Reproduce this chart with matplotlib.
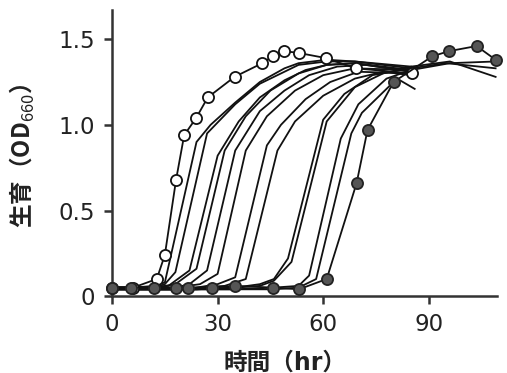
import matplotlib
matplotlib.use('Agg')
import matplotlib.pyplot as plt

plt.rcParams['font.family'] = ['DejaVu Sans', 'Noto Sans CJK JP']
plt.rcParams['mathtext.fontset'] = 'custom'
plt.rcParams['mathtext.rm'] = 'Noto Sans CJK JP'
plt.rcParams['mathtext.bf'] = 'Noto Sans CJK JP:bold'

# open-circle series
open_t = [0, 6, 12.7, 15, 18.2, 20.5, 23.9, 27.2, 34.8, 42.7, 45.6, 49, 53, 60.7, 69.2, 85.3]
open_y = [0.05, 0.05, 0.10, 0.24, 0.68, 0.94, 1.04, 1.16, 1.28, 1.36, 1.40, 1.43, 1.42, 1.39, 1.33, 1.30]

# filled-circle series
dark_t = [0, 5.4, 12, 18.2, 21.7, 28.3, 34.9, 45.8, 53.1, 61, 69.5, 72.6, 80, 91, 95.7, 103.6, 109]
dark_y = [0.05, 0.05, 0.05, 0.05, 0.05, 0.05, 0.06, 0.05, 0.04, 0.10, 0.66, 0.97, 1.25, 1.40, 1.43, 1.46, 1.38]

# intermediate curves (no markers)
curves = [
    ([0, 6, 12, 15, 24, 28, 35, 42, 49, 53, 61, 69, 85],
     [0.05, 0.05, 0.06, 0.08, 0.90, 1.00, 1.13, 1.25, 1.33, 1.36, 1.38, 1.37, 1.33]),
    ([0, 6, 12, 15, 18, 27, 35, 42, 49, 53, 61, 69, 85],
     [0.05, 0.05, 0.05, 0.07, 0.14, 0.95, 1.12, 1.24, 1.31, 1.35, 1.37, 1.37, 1.34]),
    ([0, 6, 12, 16, 22, 30, 36, 42, 49, 55, 61, 69, 85],
     [0.05, 0.05, 0.05, 0.06, 0.15, 0.82, 1.02, 1.16, 1.26, 1.32, 1.35, 1.36, 1.32]),
    ([0, 6, 12, 18, 24, 32, 38, 45, 53, 61, 69, 85],
     [0.05, 0.05, 0.05, 0.07, 0.16, 0.85, 1.05, 1.20, 1.30, 1.35, 1.36, 1.31]),
    ([0, 6, 12, 18, 22, 27, 35, 42, 49, 56, 64, 72, 85],
     [0.05, 0.05, 0.05, 0.05, 0.07, 0.15, 0.85, 1.08, 1.20, 1.29, 1.34, 1.35, 1.31]),
    ([0, 6, 12, 18, 25, 30, 38, 44, 52, 60, 69, 85],
     [0.05, 0.05, 0.05, 0.05, 0.07, 0.13, 0.85, 1.05, 1.20, 1.29, 1.33, 1.32]),
    ([0, 6, 12, 18, 24, 30, 35, 44, 48, 55, 62, 70, 85],
     [0.04, 0.04, 0.04, 0.04, 0.05, 0.07, 0.11, 0.88, 1.00, 1.15, 1.25, 1.31, 1.30]),
    ([0, 6, 12, 18, 24, 32, 38, 47, 52, 60, 69, 77, 85],
     [0.04, 0.04, 0.04, 0.04, 0.05, 0.06, 0.10, 0.85, 1.02, 1.17, 1.27, 1.31, 1.29]),
    ([0, 12, 24, 35, 42, 46, 50, 60, 66, 74, 85, 95, 109],
     [0.04, 0.04, 0.04, 0.05, 0.07, 0.10, 0.22, 1.03, 1.18, 1.29, 1.33, 1.36, 1.33]),
    ([0, 12, 24, 35, 42, 46, 51, 61, 69, 77, 85, 96, 109],
     [0.04, 0.04, 0.04, 0.05, 0.06, 0.09, 0.20, 1.02, 1.22, 1.30, 1.34, 1.37, 1.28]),
    ([0, 12, 24, 35, 46, 53, 56, 65, 70, 78, 85, 96, 109],
     [0.04, 0.04, 0.04, 0.04, 0.05, 0.06, 0.12, 0.92, 1.12, 1.27, 1.32, 1.36, 1.37]),
    ([0, 12, 24, 35, 46, 53, 58, 68, 71, 81, 86],
     [0.04, 0.04, 0.04, 0.04, 0.04, 0.05, 0.10, 0.95, 1.07, 1.27, 1.21]),
]

x_ticks = [0, 30, 60, 90]
y_ticks = [0, 0.5, 1.0, 1.5]
y_tick_labels = ['0', '0.5', '1.0', '1.5']

fig = plt.figure(figsize=(5.07, 3.73), dpi=100)
ax = fig.add_axes([0.221, 0.206, 0.76, 0.767])

for t, y in curves:
    ax.plot(t, y, color='#111111', lw=1.3, clip_on=False, zorder=2)

ax.plot(open_t, open_y, color='#111111', lw=1.3, marker='o', ms=8,
        mfc='white', mec='#111111', mew=1.3, clip_on=False, zorder=3)
ax.plot(dark_t, dark_y, color='#111111', lw=1.3, marker='o', ms=8,
        mfc='#555555', mec='#222222', mew=1.3, clip_on=False, zorder=4)

ax.set_xlim(0, 109.5)
ax.set_ylim(0, 1.67)
ax.set_xticks(x_ticks)
ax.set_yticks(y_ticks)
ax.set_yticklabels(y_tick_labels)
for side in ['top', 'right']:
    ax.spines[side].set_visible(False)
for side in ['left', 'bottom']:
    ax.spines[side].set_linewidth(1.8)
    ax.spines[side].set_color('#333333')
ax.tick_params(direction='out', length=6, width=1.8, color='#333333',
               labelsize=16.5, labelcolor='#222222', pad=6)

ax.set_xlabel('時間（hr）', fontsize=17, color='#222222', fontweight='bold')
ax.xaxis.set_label_coords(0.45, -0.19)
ax.set_ylabel('生育（OD$_{660}$）', fontsize=17, color='#222222',
              fontweight='bold', family='Noto Sans CJK JP')
ax.yaxis.set_label_coords(-0.195, 0.49)

fig.savefig('out.png', dpi=100)
